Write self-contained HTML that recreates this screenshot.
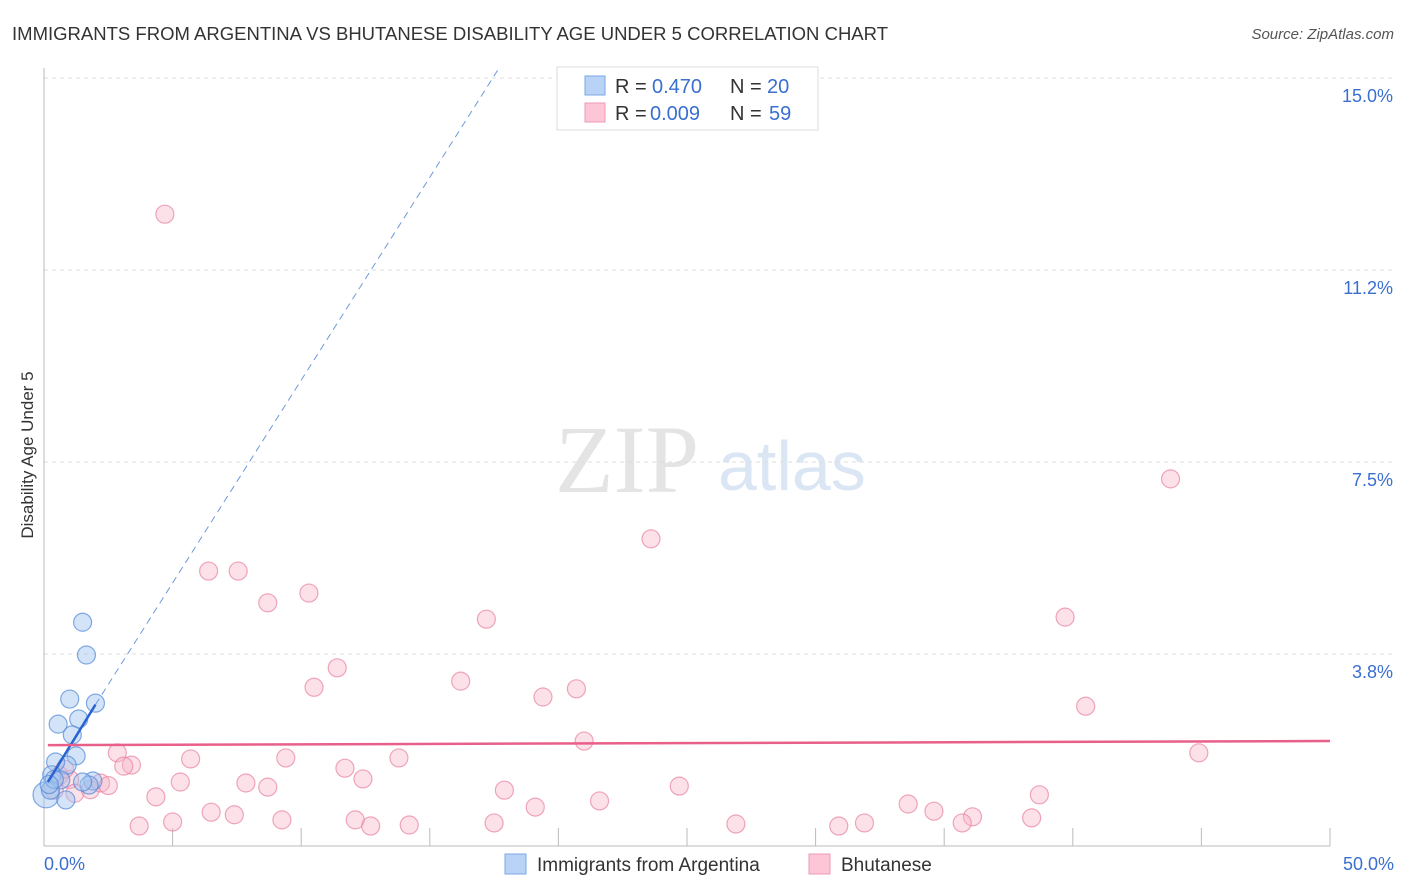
<!DOCTYPE html>
<html><head><meta charset="utf-8"><style>
body{margin:0;background:#fff;font-family:"Liberation Sans",sans-serif;}
#wrap{position:relative;width:1406px;height:892px;overflow:hidden;}
</style></head><body>
<div id="wrap">
<svg id="svg" width="1406" height="892" xmlns="http://www.w3.org/2000/svg">
<text x="12" y="40" font-size="18" fill="#333" textLength="876" lengthAdjust="spacingAndGlyphs">IMMIGRANTS FROM ARGENTINA VS BHUTANESE DISABILITY AGE UNDER 5 CORRELATION CHART</text>
<text x="1394" y="39" font-size="15" fill="#555" font-style="italic" text-anchor="end">Source: ZipAtlas.com</text>
<text x="555" y="492" font-size="96" fill="#e4e4e4" font-family="Liberation Serif,serif">ZIP</text>
<text x="718" y="490" font-size="70" fill="#dbe6f5">atlas</text>
<text transform="translate(33,455) rotate(-90)" font-size="17" fill="#333" text-anchor="middle">Disability Age Under 5</text>
<g id="grid"></g><g id="pts"></g><g id="trend"></g>
<g>
<rect x="557" y="67" width="261" height="63" fill="#fff" stroke="#ddd"/>
<rect x="585" y="76" width="20" height="19" fill="#b8d3f5" stroke="#7aaae6"/>
<rect x="585" y="103" width="20" height="19" fill="#fcc6d6" stroke="#ef9ab4"/>
<text x="615" y="93" font-size="20" fill="#333">R =</text>
<text x="652" y="93" font-size="20" fill="#3a6fd0">0.470</text>
<text x="730" y="93" font-size="20" fill="#333">N =</text>
<text x="767" y="93" font-size="20" fill="#3a6fd0">20</text>
<text x="615" y="120" font-size="20" fill="#333">R =</text>
<text x="650" y="120" font-size="20" fill="#3a6fd0">0.009</text>
<text x="730" y="120" font-size="20" fill="#333">N =</text>
<text x="769" y="120" font-size="20" fill="#3a6fd0">59</text>
</g>
<g>
<rect x="505" y="854" width="21" height="20" fill="#b8d3f5" stroke="#7aaae6"/>
<text x="537" y="871" font-size="19" fill="#333">Immigrants from Argentina</text>
<rect x="809" y="854" width="21" height="20" fill="#fcc6d6" stroke="#ef9ab4"/>
<text x="841" y="871" font-size="19" fill="#333">Bhutanese</text>
</g>
</svg></div>
<script>
const yTicks=[3.75,7.5,11.25,15];
const yTickLabels=["3.8%","7.5%","11.2%","15.0%"];
const xTicks=[5,10,15,20,25,30,35,40,45,50];
const blueX=[1.5,1.65,1.0,2.0,0.55,1.35,1.1,1.25,0.9,0.45,0.3,0.65,1.9,1.75,0.08,0.25,0.85,0.4,0.2,1.5];
const blueY=[4.37,3.73,2.87,2.79,2.38,2.48,2.17,1.76,1.58,1.64,1.39,1.29,1.27,1.19,1.0,1.09,0.9,1.3,1.2,1.25];
const pinkX=[4.7,43.8,23.6,6.4,7.55,8.7,10.3,17.2,39.7,11.4,10.5,16.2,19.4,20.7,40.5,21.0,44.9,2.85,5.7,9.4,13.8,3.4,3.1,11.7,5.3,7.85,8.7,12.4,17.9,24.7,4.35,38.7,21.6,19.1,6.5,7.4,33.6,34.6,36.1,35.7,38.4,3.7,5.0,9.25,12.1,12.7,14.2,17.5,26.9,30.9,31.9,0.6,1.0,1.2,1.8,2.2,2.5,0.4,0.8];
const pinkY=[12.34,7.17,6.0,5.37,5.37,4.75,4.94,4.43,4.47,3.48,3.1,3.22,2.91,3.07,2.73,2.05,1.82,1.82,1.7,1.72,1.72,1.58,1.56,1.52,1.25,1.23,1.15,1.31,1.09,1.17,0.96,1.0,0.88,0.76,0.66,0.61,0.82,0.68,0.57,0.45,0.55,0.39,0.47,0.51,0.51,0.39,0.41,0.45,0.43,0.39,0.45,1.38,1.3,1.03,1.1,1.23,1.18,1.09,1.5];
const blueTrend=[[0.15,1.25],[2.0,2.76],[17.7,15.2]];
const pinkTrend=[[0.15,1.97],[50,2.05]];
const X=v=>44+v*25.72, Y=v=>846-v*51.2;
const NS="http://www.w3.org/2000/svg";
function mk(t,a,p){const e=document.createElementNS(NS,t);for(const k in a)e.setAttribute(k,a[k]);p.appendChild(e);return e;}
const g=document.getElementById('grid');
yTicks.forEach((t,i)=>{
 const l=mk('line',{x1:44,x2:1394,y1:Y(t),y2:Y(t),stroke:'#ddd','stroke-dasharray':'4,4'},g);
 
 
 const tx=mk('text',{x:1393,y:Y(t)+24,'font-size':18,fill:'#3a6fd0','text-anchor':'end'},g);
 tx.textContent=yTickLabels[i];
 
 
});
const ax=mk('line',{x1:44,x2:44,y1:68,y2:846,stroke:'#bbb'},g);


const bx=mk('line',{x1:44,x2:1330,y1:846,y2:846,stroke:'#bbb'},g);


xTicks.forEach(t=>{const l=mk('line',{x1:X(t),x2:X(t),y1:828,y2:846,stroke:'#bbb'},g);
 
 });
const x0=mk('text',{x:44,y:870,'font-size':18,fill:'#3a6fd0'},g);x0.textContent='0.0%';


const x1=mk('text',{x:1394,y:870,'font-size':18,fill:'#3a6fd0','text-anchor':'end'},g);x1.textContent='50.0%';


const pg=document.getElementById('pts');
pinkX.forEach((v,i)=>{const c=mk('circle',{cx:X(v),cy:Y(pinkY[i]),r:9,fill:'rgba(248,180,200,0.4)',stroke:'rgba(232,130,160,0.7)','stroke-width':1.2},pg);
 
 });
blueX.forEach((v,i)=>{const c=mk('circle',{cx:X(v),cy:Y(blueY[i]),r:i==14?13:9,fill:'rgba(160,195,240,0.45)',stroke:'rgba(80,135,215,0.7)','stroke-width':1.2},pg);
 
 });
const tg=document.getElementById('trend');
const b1=mk('line',{x1:X(blueTrend[0][0]),y1:Y(blueTrend[0][1]),x2:X(blueTrend[1][0]),y2:Y(blueTrend[1][1]),stroke:'#2a64d0','stroke-width':2.5},tg);


const b2=mk('line',{x1:X(blueTrend[1][0]),y1:Y(blueTrend[1][1]),x2:X(blueTrend[2][0]),y2:Y(blueTrend[2][1]),stroke:'#6f98dd','stroke-width':1,'stroke-dasharray':'7,5'},tg);


const p1=mk('line',{x1:X(pinkTrend[0][0]),y1:Y(pinkTrend[0][1]),x2:X(pinkTrend[1][0]),y2:Y(pinkTrend[1][1]),stroke:'#e8608a','stroke-width':2.5},tg);


</script>
</body></html>
